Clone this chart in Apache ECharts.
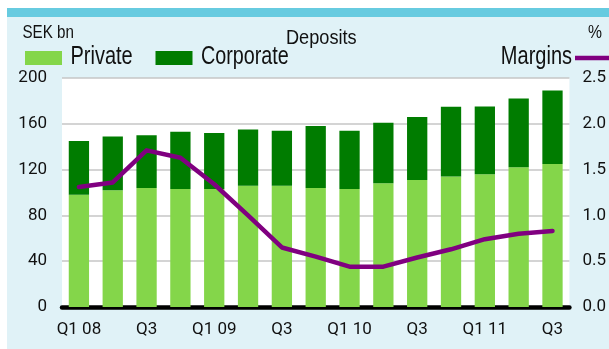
<!DOCTYPE html>
<html>
<head>
<meta charset="utf-8">
<script src="https://cdn.jsdelivr.net/npm/echarts@6/dist/echarts.min.js"></script>
<style>
  html, body { margin: 0; padding: 0; background: #ffffff; }
  #chart { width: 609px; height: 349px; }
</style>
</head>
<body>
<div id="chart"></div>
<script>
// Quarterly deposits (SEK bn) split by segment, with deposit margins (%)
const quarters = ['Q1 08','Q2 08','Q3 08','Q4 08','Q1 09','Q2 09','Q3 09','Q4 09',
                  'Q1 10','Q2 10','Q3 10','Q4 10','Q1 11','Q2 11','Q3 11'];
const tickLabels = ['Q1 08','','Q3','','Q1 09','','Q3','','Q1 10','','Q3','','Q1 11','','Q3'];
const privateDeposits   = [98, 102, 104, 103, 103, 106, 106, 104, 103, 108, 111, 114, 116, 122, 125];
const corporateDeposits = [47, 47, 46, 50, 49, 49, 48, 54, 51, 53, 55, 61, 59, 60, 64];
const margins = [1.31, 1.36, 1.71, 1.63, 1.34, 1.00, 0.65, 0.55, 0.44, 0.44, 0.54, 0.63, 0.74, 0.80, 0.83];

const PRIVATE_COLOR = '#84d64a';
const CORPORATE_COLOR = '#007c00';
const MARGIN_COLOR = '#800080';
const HEAD_FONT = "'Liberation Sans', Arial, sans-serif";
const TICK_FONT = "Roboto, 'Liberation Sans', sans-serif";

// Condensed header text: a regular face squeezed horizontally
function headText(text, x, y, size, squeeze, align) {
  return {
    type: 'text', x: x, y: y, scaleX: squeeze, z: 10,
    style: {
      text: text, fill: '#111',
      font: size + 'px ' + HEAD_FONT,
      align: align || 'left', verticalAlign: 'middle'
    }
  };
}

const chart = echarts.init(document.getElementById('chart'), null, { renderer: 'canvas' });

chart.setOption({
  animation: false,
  backgroundColor: '#ffffff',
  textStyle: { fontFamily: TICK_FONT, color: '#111' },
  graphic: [
    // panel background and top band
    { type: 'rect', z: -10, shape: { x: 7, y: 8, width: 602, height: 341 }, style: { fill: '#e0f2f7' } },
    { type: 'rect', z: -9, shape: { x: 7, y: 8, width: 602, height: 9 }, style: { fill: '#67cbe0' } },
    // unit labels and heading
    headText('SEK bn', 22.5, 33, 18.5, 0.82),
    headText('Deposits', 286, 38, 21, 0.865),
    headText('%', 588, 33, 18.5, 0.85),
    // key
    { type: 'rect', z: 10, shape: { x: 25, y: 51, width: 37, height: 14 }, style: { fill: PRIVATE_COLOR } },
    headText('Private', 70.5, 57, 25, 0.8),
    { type: 'rect', z: 10, shape: { x: 155.5, y: 51, width: 37, height: 14 }, style: { fill: CORPORATE_COLOR } },
    headText('Corporate', 201, 57, 25, 0.79),
    headText('Margins', 572, 57, 25, 0.8, 'right'),
    { type: 'rect', z: 10, shape: { x: 575, y: 55.8, width: 34, height: 4.5 }, style: { fill: MARGIN_COLOR } }
  ],
  grid: {
    left: 62, right: 34, top: 78, bottom: 42,
    show: true, backgroundColor: '#ffffff', borderWidth: 0
  },
  xAxis: {
    type: 'category',
    data: quarters,
    axisTick: { show: false },
    axisLine: { show: true, lineStyle: { color: '#000', width: 4.5, cap: 'round' } },
    axisLabel: {
      interval: 0, margin: 14,
      fontFamily: TICK_FONT, fontSize: 17, color: '#111',
      formatter: (v, i) => tickLabels[i]
    }
  },
  yAxis: [
    {
      type: 'value', min: 0, max: 200, interval: 40,
      axisLine: { show: false }, axisTick: { show: false },
      axisLabel: { margin: 15, fontFamily: TICK_FONT, fontSize: 17, color: '#111' },
      splitLine: { show: true, lineStyle: { color: '#c6c6c6', width: 1.5 } }
    },
    {
      type: 'value', min: 0, max: 2.5, interval: 0.5,
      axisLine: { show: false }, axisTick: { show: false },
      axisLabel: { margin: 13, fontFamily: TICK_FONT, fontSize: 17, color: '#111', formatter: v => v.toFixed(1) },
      splitLine: { show: false }
    }
  ],
  series: [
    {
      name: 'Private', type: 'bar', stack: 'deposits',
      data: privateDeposits, barCategoryGap: '40%',
      itemStyle: { color: PRIVATE_COLOR }
    },
    {
      name: 'Corporate', type: 'bar', stack: 'deposits',
      data: corporateDeposits, barCategoryGap: '40%',
      itemStyle: { color: CORPORATE_COLOR }
    },
    {
      name: 'Margins', type: 'line', yAxisIndex: 1,
      data: margins, symbol: 'none', z: 5,
      itemStyle: { color: MARGIN_COLOR },
      lineStyle: { color: MARGIN_COLOR, width: 4.5, cap: 'round', join: 'round' }
    }
  ]
});
</script>
</body>
</html>
